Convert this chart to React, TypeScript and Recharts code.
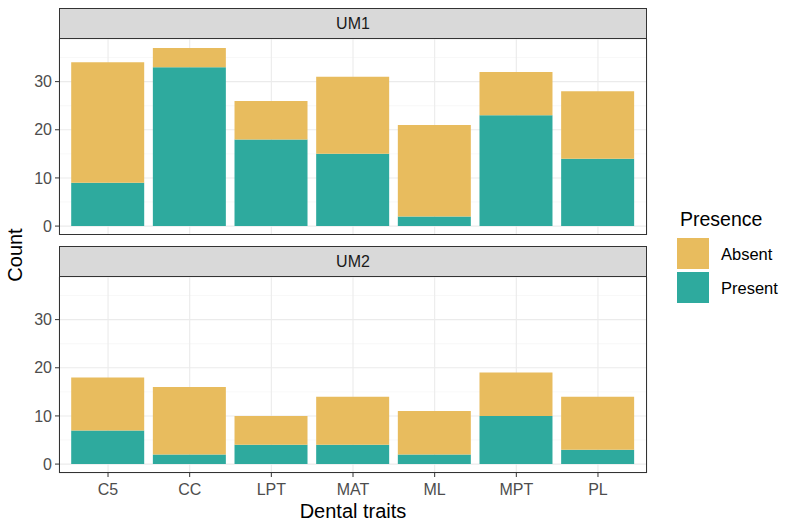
import React from 'react';
import { BarChart, Bar, XAxis, YAxis, CartesianGrid } from 'recharts';

const traits = ['C5', 'CC', 'LPT', 'MAT', 'ML', 'MPT', 'PL'];
const um1Present = [9, 33, 18, 15, 2, 23, 14];
const um1Absent = [25, 4, 8, 16, 19, 9, 14];
const um2Present = [7, 2, 4, 4, 2, 10, 3];
const um2Absent = [11, 14, 6, 10, 9, 9, 11];
const yTicks = [0, 10, 20, 30];
const minorTicks = [5, 15, 25, 35];
const facets = ['UM1', 'UM2'];
const legendLabels = ['Absent', 'Present'];

const TEAL = '#2EAA9E';
const ORANGE = '#E8BC5E';
const FONT = 'Liberation Sans, Arial, sans-serif';

const build = (p: number[], a: number[]) =>
  traits.map((t, i) => ({ trait: t, Present: p[i], Absent: a[i] }));

const PANEL_LEFT = 59;
const PANEL_RIGHT = 647;
const PANEL_W = PANEL_RIGHT - PANEL_LEFT;
const PANEL_H = 196;

function Panel({ data, top, showX }: { data: any[]; top: number; showX: boolean }) {
  const xH = showX ? 30 : 0;
  return (
    <div style={{ position: 'absolute', left: 0, top }}>
      <BarChart
        width={787}
        height={PANEL_H + xH}
        data={data}
        margin={{ top: 0, right: 787 - PANEL_RIGHT, bottom: 0, left: 0 }}
        barSize={73}
      >
        <CartesianGrid
          stroke="#f3f3f3"
          strokeWidth={0.6}
          vertical={false}
          horizontalValues={minorTicks}
        />
        <CartesianGrid stroke="#ebebeb" strokeWidth={1.1} />
        <XAxis
          dataKey="trait"
          hide={!showX}
          height={xH}
          padding={{ left: 8.2, right: 8.2 }}
          tickLine={{ stroke: '#333333' }}
          axisLine={false}
          tickSize={4}
          tickMargin={7}
          tick={{ fill: '#4d4d4d', fontSize: 16, fontFamily: FONT }}
          interval={0}
        />
        <YAxis
          width={PANEL_LEFT}
          domain={[-1.85, 38.85]}
          allowDataOverflow
          ticks={yTicks}
          interval={0}
          tickLine={{ stroke: '#333333' }}
          axisLine={false}
          tickSize={4}
          tickMargin={3}
          tick={{ fill: '#4d4d4d', fontSize: 16, fontFamily: FONT }}
        />
        <Bar dataKey="Present" stackId="s" fill={TEAL} isAnimationActive={false} />
        <Bar dataKey="Absent" stackId="s" fill={ORANGE} isAnimationActive={false} />
      </BarChart>
    </div>
  );
}

function Strip({ label, top }: { label: string; top: number }) {
  return (
    <div
      style={{
        position: 'absolute',
        left: PANEL_LEFT,
        top,
        width: PANEL_W,
        height: 31,
        boxSizing: 'border-box',
        background: '#d9d9d9',
        border: '1px solid #333333',
        display: 'flex',
        alignItems: 'center',
        justifyContent: 'center',
        fontFamily: FONT,
        fontSize: 16,
        color: '#1a1a1a',
      }}
    >
      {label}
    </div>
  );
}

function Border({ top }: { top: number }) {
  return (
    <div
      style={{
        position: 'absolute',
        left: PANEL_LEFT,
        top: top - 1,
        width: PANEL_W,
        height: PANEL_H + 1,
        boxSizing: 'border-box',
        border: '1px solid #333333',
        borderTop: 'none',
        pointerEvents: 'none',
      }}
    />
  );
}

export default function App() {
  const d1 = build(um1Present, um1Absent);
  const d2 = build(um2Present, um2Absent);
  return (
    <div
      style={{
        position: 'absolute',
        left: 0,
        top: 0,
        width: 787,
        height: 521,
        background: '#ffffff',
        fontFamily: FONT,
        overflow: 'hidden',
      }}
    >
      <Panel data={d1} top={39} showX={false} />
      <Panel data={d2} top={277} showX={true} />
      <Border top={39} />
      <Border top={277} />
      <Strip label={facets[0]} top={8} />
      <Strip label={facets[1]} top={246} />
      <div
        style={{
          position: 'absolute',
          left: 15,
          top: 255,
          transform: 'translate(-50%, -50%) rotate(-90deg)',
          fontSize: 20,
          color: '#000',
          whiteSpace: 'nowrap',
        }}
      >
        Count
      </div>
      <div
        style={{
          position: 'absolute',
          left: 353,
          top: 511,
          transform: 'translate(-50%, -50%)',
          fontSize: 20,
          color: '#000',
          whiteSpace: 'nowrap',
        }}
      >
        Dental traits
      </div>
      <div
        style={{
          position: 'absolute',
          left: 680,
          top: 219,
          transform: 'translateY(-50%)',
          fontSize: 19.5,
          color: '#000',
          whiteSpace: 'nowrap',
        }}
      >
        Presence
      </div>
      {legendLabels.map((lab, i) => (
        <React.Fragment key={lab}>
          <div
            style={{
              position: 'absolute',
              left: 677,
              top: 238 + i * 34,
              width: 32,
              height: 31,
              background: i === 0 ? ORANGE : TEAL,
            }}
          />
          <div
            style={{
              position: 'absolute',
              left: 721,
              top: 254 + i * 34,
              transform: 'translateY(-50%)',
              fontSize: 16.5,
              color: '#000',
              whiteSpace: 'nowrap',
            }}
          >
            {lab}
          </div>
        </React.Fragment>
      ))}
    </div>
  );
}
